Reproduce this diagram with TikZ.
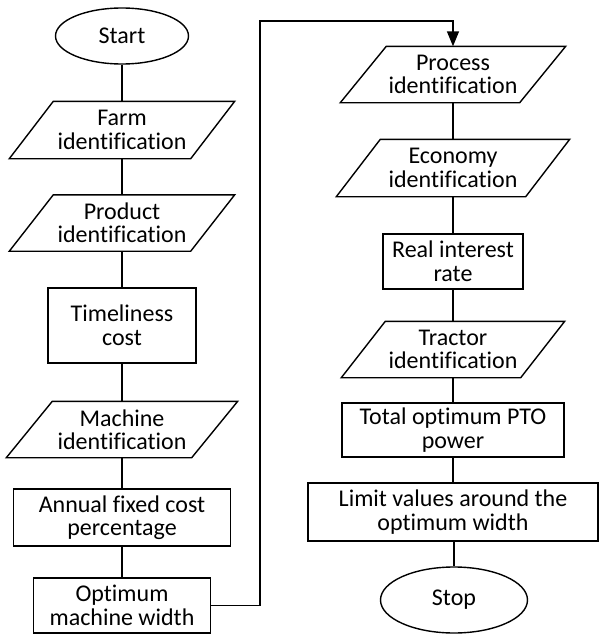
\documentclass[tikz,border=0pt]{standalone}
\usepackage{fontspec}
\setmainfont{Carlito}[Ligatures={NoCommon}]
\usetikzlibrary{arrows.meta,shapes.geometric}
\begin{document}
\begin{tikzpicture}[x=1pt,y=-1pt,line width=1.4pt,
  every node/.style={font=\fontsize{24}{23.5}\selectfont,align=center,inner sep=0pt,text=black},
  box/.style={draw},
  para/.style={},
  term/.style={draw,ellipse}]
\useasboundingbox (0,0) rectangle (599,635);
% left column
\node[term,minimum width=133pt,minimum height=56pt] (start) at (122,36) {Start};
\node[para,minimum width=180pt,minimum height=56pt] (farm) at (122,130) {Farm\\identification};
\node[para,minimum width=180pt,minimum height=55pt] (product) at (122,223) {Product\\identification};
\node[box,minimum width=148pt,minimum height=75pt] (time) at (122,325.5) {Timeliness\\cost};
\node[para,minimum width=184pt,minimum height=55pt] (machine) at (122,429.5) {Machine\\identification};
\node[box,minimum width=217pt,minimum height=57pt] (annual) at (122,517.5) {Annual fixed cost\\percentage};
\node[box,minimum width=177pt,minimum height=55pt] (optw) at (122,605.5) {Optimum\\machine width};
% right column
\node[para,minimum width=178pt,minimum height=55pt] (process) at (453,74.5) {Process\\identification};
\node[para,minimum width=188pt,minimum height=56pt] (economy) at (453,168) {Economy\\identification};
\node[box,minimum width=140pt,minimum height=55pt] (rate) at (453,261.5) {Real interest\\rate};
\node[para,minimum width=178pt,minimum height=55pt] (tractor) at (453,349.5) {Tractor\\identification};
\node[box,minimum width=222pt,minimum height=54pt] (pto) at (453,430) {Total optimum PTO\\power};
\node[box,minimum width=290pt,minimum height=58pt] (limit) at (453,512) {Limit values around the\\optimum width};
\node[term,minimum width=147pt,minimum height=66pt] (stop) at (454,600) {Stop};
% parallelogram outlines
\foreach \n/\s in {farm/22,product/22,machine/23,process/23,economy/22,tractor/22}
  \draw ([xshift=\s pt]\n.north west) -- ([xshift=\s pt]\n.north east)
     -- ([xshift=-\s pt]\n.south east) -- ([xshift=-\s pt]\n.south west) -- cycle;
% connectors
\draw (start) -- (farm);
\draw (farm) -- (product);
\draw (product) -- (time);
\draw (time) -- (machine);
\draw (machine) -- (annual);
\draw (annual) -- (optw);
\draw (process) -- (economy);
\draw (economy) -- (rate);
\draw (rate) -- (tractor);
\draw (tractor) -- (pto);
\draw (pto) -- (limit);
\draw (limit.south -| stop.north) -- (stop);
\coordinate (turn) at (260,21);
\draw[-{Triangle[width=12pt,length=15pt]}] (optw.east) -| (turn) -| (process.north);
\end{tikzpicture}
\end{document}
